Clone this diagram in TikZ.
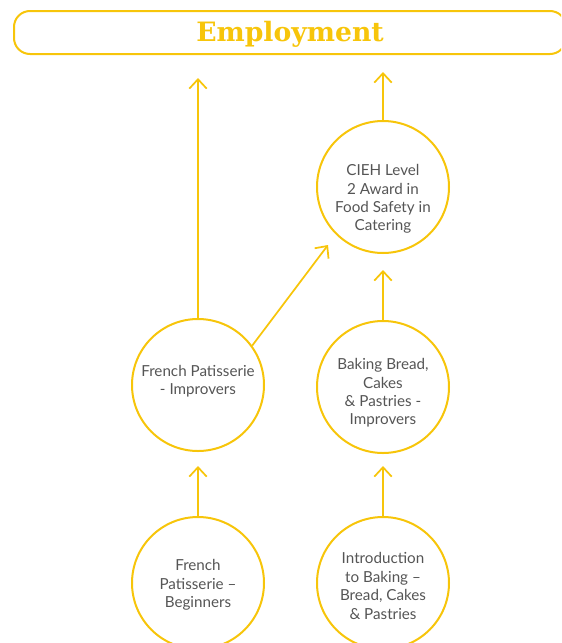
\documentclass[tikz,border=0pt]{standalone}
\usepackage{fontspec}
\setmainfont{Lato}
\newfontfamily\slabfont{DejaVu Serif}
\usepackage{tikz}
\usetikzlibrary{arrows.meta}
\definecolor{gold}{RGB}{247,197,10}
\definecolor{txtgray}{RGB}{85,85,85}
\tikzstyle{arrow} = [line width=1.3pt,draw=gold,-{Straight Barb[length=7pt,width=13pt,line width=1.3pt]}]
\tikzstyle{course} = [circle,draw=gold,line width=1.5pt,minimum size=99pt,inner sep=0pt]
\tikzstyle{coursetext} = [text=txtgray,align=center,font=\fontsize{11.4}{13.8}\selectfont]

\begin{document}
\begin{tikzpicture}[x=0.75pt,y=-0.75pt]
        \useasboundingbox (0,0) rectangle (561,643);
        \begin{scope}
            \clip (0,0) rectangle (561,643);
            \draw[gold,line width=1.5pt,rounded corners=12pt] (14,11) rectangle (566,54);
        \end{scope}
        \node (emp) at (290,34) {\slabfont\bfseries\fontsize{20}{24}\selectfont\color{gold}Employment};
        % circles
        \node (cieh)[course] at (383,187) {};
        \node (fpimp)[course] at (198,385) {};
        \node (bbimp)[course] at (383,387) {};
        \node (fpbeg)[course] at (198,583) {};
        \node (intro)[course] at (383,583) {};
        % texts
        \node (ciehtext)[coursetext] at (383,199) {CIEH Level\\2 Award in\\Food Safety in\\Catering};
        \node (fpimptext)[coursetext] at (198,381) {French Patisserie\\- Improvers};
        \node (bbimptext)[coursetext] at (383,393) {Baking Bread,\\Cakes\\\& Pastries -\\Improvers};
        \node (fpbegtext)[coursetext] at (198,585) {French\\Patisserie --\\Beginners};
        \node (introtext)[coursetext] at (383,586) {Introduction\\to Baking --\\Bread, Cakes\\\& Pastries};
        \coordinate (fpend) at (198,78);
        \coordinate (ciehend) at (383,72);
        \coordinate (diagend) at (328,245);
        \coordinate (bbend) at (383,270);
        \coordinate (fpbegend) at (198,466);
        \coordinate (introend) at (383,466);
        \draw [arrow] (fpimp.north) -- (fpend);
        \draw [arrow] (cieh.north) -- (ciehend);
        \draw [arrow] (fpimp.36) -- (diagend);
        \draw [arrow] (bbimp.north) -- (bbend);
        \draw [arrow] (fpbeg.north) -- (fpbegend);
        \draw [arrow] (intro.north) -- (introend);
    \end{tikzpicture}
\end{document}
